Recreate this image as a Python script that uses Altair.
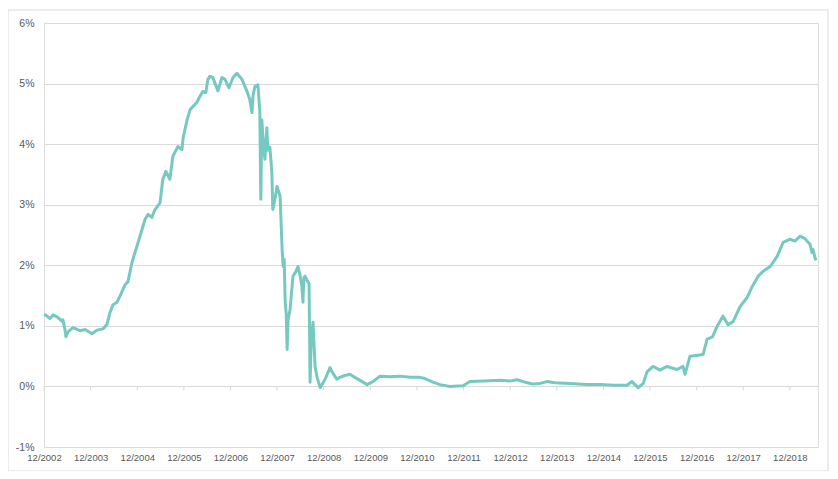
import altair as alt
import pandas as pd

dates = [
    "2002-12-01", "2002-12-20", "2003-01-17", "2003-02-10", "2003-03-19", "2003-04-20", "2003-04-28",
    "2003-05-13", "2003-05-22", "2003-06-07", "2003-07-16", "2003-09-09", "2003-10-19", "2003-12-12",
    "2004-01-20", "2004-03-07", "2004-04-07", "2004-05-01", "2004-05-25", "2004-06-25", "2004-07-18",
    "2004-08-28", "2004-09-19", "2004-10-21", "2004-11-13", "2004-12-22", "2005-01-31", "2005-02-24",
    "2005-03-25", "2005-04-19", "2005-05-28", "2005-06-19", "2005-07-13", "2005-08-13", "2005-09-06",
    "2005-10-16", "2005-11-16", "2005-11-25", "2005-12-26", "2006-01-19", "2006-03-13", "2006-04-06",
    "2006-04-28", "2006-05-22", "2006-06-07", "2006-06-22", "2006-07-16", "2006-08-25", "2006-09-25",
    "2006-10-19", "2006-11-19", "2006-12-21", "2007-01-21", "2007-03-01", "2007-04-10", "2007-05-01",
    "2007-05-19", "2007-05-27", "2007-06-10", "2007-07-04", "2007-07-19", "2007-07-27", "2007-08-04",
    "2007-08-12", "2007-08-28", "2007-09-12", "2007-09-20", "2007-10-06", "2007-10-21", "2007-10-29",
    "2007-11-15", "2007-12-01", "2007-12-25", "2008-01-10", "2008-01-18", "2008-01-26", "2008-02-03",
    "2008-02-11", "2008-02-18", "2008-02-26", "2008-03-12", "2008-04-04", "2008-04-28", "2008-05-13",
    "2008-05-28", "2008-06-13", "2008-06-21", "2008-06-29", "2008-07-07", "2008-07-31", "2008-08-08",
    "2008-08-16", "2008-08-24", "2008-09-08", "2008-09-24", "2008-10-10", "2008-11-03", "2008-12-12",
    "2009-01-19", "2009-02-10", "2009-03-13", "2009-04-06", "2009-05-15", "2009-06-24", "2009-08-01",
    "2009-09-12", "2009-11-06", "2009-12-21", "2010-02-15", "2010-05-03", "2010-07-21", "2010-10-07",
    "2010-12-25", "2011-02-02", "2011-04-06", "2011-06-01", "2011-08-16", "2011-11-27", "2012-01-21",
    "2012-05-10", "2012-09-13", "2012-12-01", "2013-01-24", "2013-03-27", "2013-05-28", "2013-07-22",
    "2013-09-16", "2013-11-15", "2014-03-13", "2014-07-25", "2014-11-07", "2015-03-01", "2015-06-04",
    "2015-07-13", "2015-08-31", "2015-10-10", "2015-11-08", "2015-12-26", "2016-02-18", "2016-04-13",
    "2016-06-30", "2016-08-16", "2016-09-01", "2016-10-10", "2016-12-26", "2017-01-21", "2017-02-21",
    "2017-04-05", "2017-05-10", "2017-06-25", "2017-08-04", "2017-09-13", "2017-11-07", "2018-01-01",
    "2018-02-10", "2018-03-28", "2018-05-06", "2018-07-01", "2018-08-25", "2018-10-10", "2018-12-04",
    "2019-01-10", "2019-02-20", "2019-03-30", "2019-04-15", "2019-05-08", "2019-05-24", "2019-06-01",
    "2019-06-17", "2019-06-25",
]

yields = [
    1.19, 1.17, 1.12, 1.18, 1.14, 1.08, 1.10,
    0.95, 0.82, 0.90, 0.97, 0.92, 0.94, 0.87,
    0.93, 0.95, 1.02, 1.22, 1.35, 1.39, 1.49,
    1.68, 1.73, 2.05, 2.21, 2.48, 2.76, 2.84,
    2.79, 2.92, 3.03, 3.42, 3.55, 3.42, 3.80,
    3.96, 3.91, 4.10, 4.40, 4.57, 4.69, 4.79,
    4.87, 4.85, 5.07, 5.12, 5.10, 4.88, 5.10,
    5.07, 4.93, 5.10, 5.17, 5.07, 4.87, 4.74,
    4.52, 4.80, 4.95, 4.98, 4.55, 3.09, 4.40,
    4.12, 3.75, 4.27, 3.90, 3.95, 3.55, 2.92,
    3.10, 3.30, 3.14, 2.26, 1.98, 2.10, 1.39,
    1.20, 0.61, 1.10, 1.27, 1.82, 1.90, 1.98,
    1.85, 1.65, 1.39, 1.80, 1.82, 1.72, 1.70,
    0.07, 0.70, 1.06, 0.33, 0.15, -0.02, 0.12,
    0.31, 0.22, 0.12, 0.15, 0.18, 0.20, 0.15,
    0.10, 0.03, 0.08, 0.17, 0.16, 0.17, 0.15,
    0.15, 0.13, 0.07, 0.03, 0.00, 0.01, 0.08,
    0.09, 0.10, 0.09, 0.11, 0.07, 0.04, 0.05,
    0.08, 0.06, 0.05, 0.03, 0.03, 0.02, 0.02,
    0.08, -0.02, 0.05, 0.24, 0.33, 0.27, 0.33,
    0.28, 0.33, 0.20, 0.50, 0.52, 0.53, 0.78,
    0.82, 0.99, 1.16, 1.02, 1.07, 1.32, 1.47,
    1.65, 1.82, 1.90, 1.98, 2.15, 2.38, 2.43,
    2.40, 2.48, 2.44, 2.40, 2.35, 2.21, 2.26,
    2.12, 2.08,
]

tick_years = list(range(2002, 2019))
y_ticks = [-1, 0, 1, 2, 3, 4, 5, 6]

df = pd.DataFrame({"date": dates, "value": yields})
ticks_df = pd.DataFrame({"date": [f"{y}-12-01" for y in tick_years]})

GRID = "#d9d9d9"
TEXT = "#595959"
FONT = "Liberation Sans"

x_scale = alt.Scale(
    type="utc",
    domain=[
        alt.DateTime(year=2002, month=12, date=1, utc=True),
        alt.DateTime(year=2019, month=7, date=10, utc=True),
    ],
    nice=False,
)
y_scale = alt.Scale(domain=[-1, 6], nice=False, zero=False)

x_axis = alt.Axis(
    values=[alt.DateTime(year=y, month=12, date=1, utc=True) for y in tick_years],
    labelExpr="utcFormat(datum.value, '%m/%Y')",
    title=None,
    grid=False,
    ticks=False,
    domain=False,
    labelPadding=5,
    labelFontSize=9.5,
    labelColor=TEXT,
    labelFont=FONT,
    labelAlign="center",
    labelOverlap=False,
    labelFlush=False,
)
y_axis = alt.Axis(
    values=y_ticks,
    labelExpr="datum.value + '%'",
    title=None,
    grid=True,
    gridColor=GRID,
    gridWidth=1,
    ticks=False,
    domain=False,
    labelPadding=10,
    labelFontSize=10.5,
    labelColor=TEXT,
    labelFont=FONT,
)

line = alt.Chart(df).mark_line(color="#76c9c1", strokeWidth=3, strokeJoin="round").encode(
    x=alt.X("date:T", scale=x_scale, axis=x_axis),
    y=alt.Y("value:Q", scale=y_scale, axis=y_axis),
)

ticks = alt.Chart(ticks_df).mark_rule(color=GRID, strokeWidth=1).encode(
    x=alt.X("date:T", scale=x_scale),
    y=alt.datum(0),
    y2=alt.datum(-0.065),
)

frame = alt.Chart(pd.DataFrame({"a": [0]})).mark_rect(
    fill=None, stroke=GRID, strokeWidth=1
).encode(
    x=alt.value(-36), x2=alt.value(784), y=alt.value(-13), y2=alt.value(448)
)

chart = alt.layer(frame, ticks, line).properties(
    width=774,
    height=424,
    autosize=alt.AutoSizeParams(type="none"),
    padding={"left": 36, "top": 15, "right": 12, "bottom": 24},
).configure_view(stroke=None).configure(background="white")

chart.save("out.html", embed_options={"renderer": "svg", "actions": False})
